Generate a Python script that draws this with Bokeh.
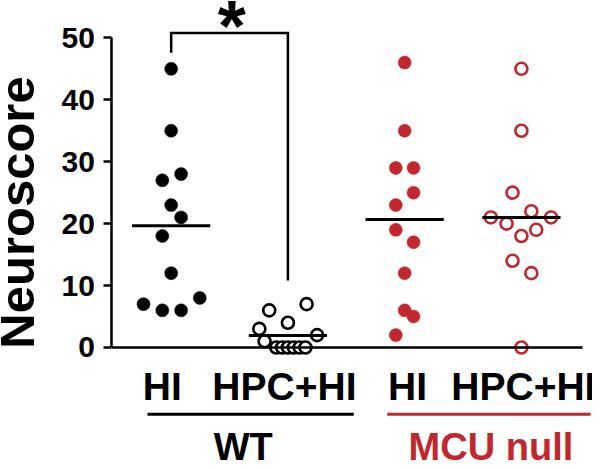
import numpy as np
from bokeh.plotting import figure
from bokeh.models import ColumnDataSource, FixedTicker, Range1d
from bokeh.core.properties import value
from bokeh.embed import file_html
from bokeh.resources import INLINE

# ---- data ----
group_labels = ["HI", "HPC+HI", "HI", "HPC+HI"]
genotypes = ["WT", "MCU null"]
y_title = "Neuroscore"
wt_hi = [45, 35, 28, 27, 23, 21, 18, 12, 8, 7, 6, 6]
wt_hpc_hi = [7, 6, 4, 3, 2, 1, 0, 0, 0, 0, 0, 0]
mcu_hi = [46, 35, 29, 29, 25, 23, 19, 17, 12, 6, 5, 2]
mcu_hpc_hi = [45, 35, 25, 22, 21, 21, 20, 19, 18, 14, 12, 0]
y_ticks = [0, 10, 20, 30, 40, 50]

# ---- layout (beeswarm jitter, in x units) ----
jit_wt_hi = [0, 0, 0.085, -0.076, 0, 0.085, -0.076, 0, 0.245, -0.237, -0.076, 0.085]
jit_wt_hpc = [0.16, -0.16, 0, -0.245, 0.25, -0.2, -0.10, -0.05, 0, 0.05, 0.10, 0.15]
jit_mcu_hi = [0, 0, -0.076, 0.076, 0.076, -0.076, -0.076, 0.076, 0, 0, 0.076, -0.076]
jit_mcu_hpc = [0, 0, -0.076, 0.085, -0.262, 0.254, -0.127, 0.127, 0, -0.076, 0.085, 0]

BLACK = "#000000"
RED = "#C1272D"
FONT = "Liberation Sans"
AXIS_X = 0.493
X_END = 4.525

p = figure(width=592, height=461,
           x_range=Range1d(-0.462, 4.609), y_range=Range1d(-18.41, 56.03),
           output_backend="svg", toolbar_location=None, x_axis_type=None,
           min_border_left=0, min_border_right=0, min_border_top=0, min_border_bottom=0)
p.outline_line_color = None
p.grid.visible = False
p.background_fill_color = "white"

ax = p.yaxis[0]
ax.fixed_location = AXIS_X
ax.bounds = (0, 50)
ax.ticker = FixedTicker(ticks=y_ticks)
ax.axis_line_width = 2.5
ax.major_tick_line_width = 2.5
ax.major_tick_out = 8
ax.major_tick_in = 0
ax.minor_tick_line_color = None
ax.major_label_standoff = 9
ax.major_label_text_font = FONT
ax.major_label_text_font_style = "bold"
ax.major_label_text_font_size = "30px"
ax.major_label_text_color = BLACK

series = [
    (1, wt_hi, jit_wt_hi, BLACK, True),
    (2, wt_hpc_hi, jit_wt_hpc, BLACK, False),
    (3, mcu_hi, jit_mcu_hi, RED, True),
    (4, mcu_hpc_hi, jit_mcu_hpc, RED, False),
]
for pos, vals, jit, col, filled in series:
    xs = [pos + j for j in jit]
    src = ColumnDataSource(dict(x=xs, y=vals))
    if filled:
        p.scatter("x", "y", source=src, size=13, marker="circle",
                  fill_color=col, line_color=col, line_width=0.5)
    else:
        p.scatter("x", "y", source=src, size=12, marker="circle",
                  fill_color="white", line_color=col, line_width=2.6)

# mean lines
for pos, vals, jit, col, filled in series:
    m = float(np.mean(vals))
    p.segment(x0=[pos - 0.335], x1=[pos + 0.335], y0=[m], y1=[m],
              line_color=BLACK, line_width=3)

# baseline
p.segment(x0=[AXIS_X], x1=[X_END], y0=[0], y1=[0], line_color=BLACK, line_width=2.5)

# significance bracket
p.line(x=[1, 1, 2, 2], y=[47.6, 50.8, 50.8, 10.8], line_color=BLACK,
       line_width=2.5, line_join="miter")
p.text(x=[1.52], y=[51.9], text=["*"], text_font=value(FONT), text_font_style="bold",
       text_font_size="72px", text_align="center", text_baseline="middle",
       text_color=BLACK)

# group labels
gsrc = ColumnDataSource(dict(x=[0.924, 1.97, 3.025, 4.017], y=[-6.35] * 4, t=group_labels))
p.text("x", "y", text="t", source=gsrc, text_font=value(FONT), text_font_style="bold",
       text_font_size="39px", text_align="center", text_baseline="middle", text_color=BLACK)

# genotype underlines
p.segment(x0=[0.797, 2.851], x1=[2.564, 4.593], y0=[-10.8, -10.8], y1=[-10.8, -10.8],
          line_color=[BLACK, RED], line_width=3)
tsrc = ColumnDataSource(dict(x=[1.617, 3.739], y=[-16.1, -16.1], t=genotypes, c=[BLACK, RED]))
p.text("x", "y", text="t", source=tsrc, text_font=value(FONT), text_font_style="bold",
       text_font_size="38px", text_align="center", text_baseline="middle", text_color="c")

# y axis title
p.text(x=[-0.319], y=[21.8], text=[y_title], angle=np.pi / 2,
       text_font=value(FONT), text_font_style="bold", text_font_size="49px",
       text_align="center", text_baseline="middle", text_color=BLACK)

open("out.html", "w").write(file_html(p, INLINE))
